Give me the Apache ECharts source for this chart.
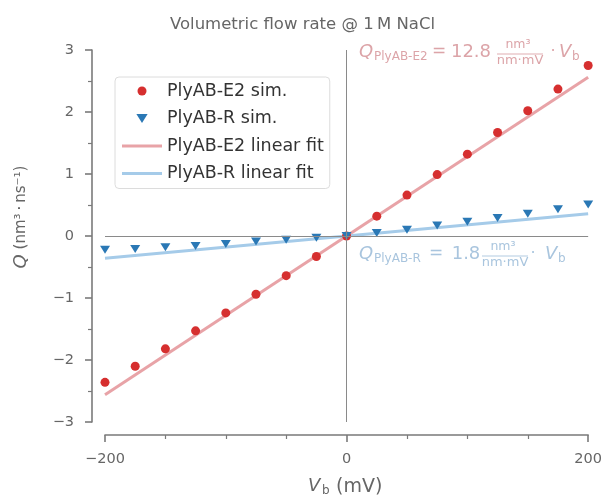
<!DOCTYPE html>
<html>
<head>
<meta charset="utf-8">
<script src="https://cdn.jsdelivr.net/npm/echarts@6/dist/echarts.min.js"></script>
<style>
html, body { margin: 0; padding: 0; background: #fff; }
#chart { width: 605px; height: 500px; }
</style>
</head>
<body>
<div id="chart"></div>
<script>
// data
var voltages = [-200, -175, -150, -125, -100, -75, -50, -25, 0, 25, 50, 75, 100, 125, 150, 175, 200];
var e2Sim = [-2.36, -2.10, -1.82, -1.53, -1.24, -0.94, -0.64, -0.33, 0.0, 0.32, 0.66, 0.99, 1.32, 1.67, 2.02, 2.37, 2.75];
var rSim = [-0.22, -0.21, -0.18, -0.16, -0.13, -0.09, -0.06, -0.03, 0.0, 0.05, 0.10, 0.17, 0.23, 0.29, 0.36, 0.43, 0.51];
var fitVoltages = [-200, 200];
var e2Fit = [-2.56, 2.56];
var rFit = [-0.36, 0.36];

var FONT = 'DejaVu Sans';
var AXIS = '#7a7a7a';
var LABEL = '#666';
var E2_COLOR = '#d62f2f';
var R_COLOR = '#2a78b5';
var E2_FIT = '#e8a3a7';
var R_FIT = '#a5cbe9';
var E2_NOTE = '#dca4a8';
var R_NOTE = '#a9c5de';
var TRI_DOWN = 'path://M0,0 L10,0 L5,8 Z';
var BAR_ICON = 'path://M0,0 L40,0 L40,3 L0,3 Z';

function pairs(xs, ys) {
    return xs.map(function (x, i) { return [x, ys[i]]; });
}
function minus(v) {
    return String(v).replace('-', '\u2212');
}

var chart = echarts.init(document.getElementById('chart'));

function txt(text, x, y, size, color, opts) {
    opts = opts || {};
    return {
        type: 'text', x: x, y: y, silent: true,
        rotation: opts.rotation || 0,
        style: {
            text: text,
            fill: color,
            font: (opts.italic ? 'italic ' : '') + size + 'px "' + FONT + '"',
            textAlign: opts.align || 'left',
            textVerticalAlign: 'middle',
            rich: opts.rich
        }
    };
}
function bar(x1, x2, y, color) {
    return {
        type: 'line', silent: true,
        shape: { x1: x1, y1: y, x2: x2, y2: y },
        style: { stroke: color, lineWidth: 0.9 }
    };
}

// equation labels, placed by hand
function equation(sub, coef, y, color, fx, eqX, coefX, dotX, vX) {
    return [
        txt('Q', 359, y, 18, color, { italic: true }),
        txt(sub, 374, y + 5, 12, color),
        txt('=', eqX, y, 17, color, { align: 'center' }),
        txt(coef, coefX, y, 18, color, { align: 'center' }),
        txt('nm\u00b3', fx - 2, y - 7, 12.5, color, { align: 'center' }),
        bar(fx - 23, fx + 23, y + 2, color),
        txt('nm\u00b7mV', fx, y + 9, 13, color, { align: 'center' }),
        txt('\u00b7', dotX, y, 16, color, { align: 'center' }),
        txt('V', vX, y, 18, color, { italic: true }),
        txt('b', vX + 13, y + 5, 12, color)
    ];
}

var graphics = []
    .concat(equation('PlyAB-E2', '12.8', 52, E2_NOTE, 520, 439, 471, 553, 559))
    .concat(equation('PlyAB-R', '1.8', 254, R_NOTE, 505, 436, 466, 533, 545))
    .concat([
        txt('V', 308, 486, 18, LABEL, { italic: true }),
        txt('b', 322, 491, 12, LABEL),
        txt('(mV)', 336, 487, 19, LABEL),
        txt('{i|Q} (nm\u00b3\u2009\u00b7\u2009ns\u207b\u00b9)', 21, 217, 15, LABEL, {
            align: 'center', rotation: Math.PI / 2,
            rich: { i: { fontStyle: 'italic', fontSize: 18, fontFamily: FONT, fill: LABEL } }
        })
    ]);

var option = {
    animation: false,
    textStyle: { fontFamily: FONT },
    title: {
        text: 'Volumetric flow rate @ 1\u2009M NaCl',
        left: 'center',
        top: 11,
        textStyle: { fontFamily: FONT, fontSize: 16.5, fontWeight: 'normal', color: '#666' }
    },
    legend: {
        orient: 'vertical',
        left: 115,
        top: 77,
        padding: [5, 6, 6, 7],
        itemWidth: 40,
        itemHeight: 9,
        itemGap: 9.5,
        backgroundColor: 'rgba(255,255,255,0.85)',
        borderColor: '#dcdcdc',
        borderWidth: 1,
        borderRadius: 4,
        textStyle: { fontFamily: FONT, fontSize: 17.5, color: '#333', lineHeight: 16 },
        data: [
            { name: 'PlyAB-E2 sim.', icon: 'circle' },
            { name: 'PlyAB-R sim.', icon: TRI_DOWN },
            { name: 'PlyAB-E2 linear fit', icon: BAR_ICON },
            { name: 'PlyAB-R linear fit', icon: BAR_ICON }
        ]
    },
    grid: { left: 105, right: 15, top: 50, bottom: 78 },
    xAxis: {
        type: 'value',
        min: -200, max: 200, interval: 200,
        offset: 13,
        axisLine: { show: true, onZero: false, lineStyle: { color: AXIS, width: 1.6 } },
        axisTick: { show: true, length: 7, lineStyle: { color: AXIS, width: 1.6 } },
        minorTick: { show: true, splitNumber: 4, length: 4, lineStyle: { color: AXIS, width: 1.2 } },
        axisLabel: { color: LABEL, fontSize: 14.5, margin: 17, formatter: minus },
        splitLine: { show: false }
    },
    yAxis: {
        type: 'value',
        min: -3, max: 3, interval: 1,
        offset: 13,
        axisLine: { show: true, onZero: false, lineStyle: { color: AXIS, width: 1.6 } },
        axisTick: { show: true, length: 7, lineStyle: { color: AXIS, width: 1.6 } },
        minorTick: { show: true, splitNumber: 2, length: 4, lineStyle: { color: AXIS, width: 1.2 } },
        axisLabel: { color: LABEL, fontSize: 14.5, margin: 18, formatter: minus },
        splitLine: { show: false }
    },
    graphic: graphics,
    series: [
        {
            name: 'PlyAB-E2 linear fit',
            type: 'line',
            data: pairs(fitVoltages, e2Fit),
            symbol: 'none',
            lineStyle: { color: E2_FIT, width: 3 },
            itemStyle: { color: E2_FIT },
            z: 2,
            markLine: {
                silent: true,
                symbol: 'none',
                label: { show: false },
                lineStyle: { color: '#8a8a8a', width: 1, type: 'solid' },
                data: [{ xAxis: 0 }, { yAxis: 0 }]
            }
        },
        {
            name: 'PlyAB-R linear fit',
            type: 'line',
            data: pairs(fitVoltages, rFit),
            symbol: 'none',
            lineStyle: { color: R_FIT, width: 3 },
            itemStyle: { color: R_FIT },
            z: 2
        },
        {
            name: 'PlyAB-E2 sim.',
            type: 'scatter',
            data: pairs(voltages, e2Sim),
            symbol: 'circle',
            symbolSize: 9,
            itemStyle: { color: E2_COLOR, opacity: 1 },
            z: 3
        },
        {
            name: 'PlyAB-R sim.',
            type: 'scatter',
            data: pairs(voltages, rSim),
            symbol: TRI_DOWN,
            symbolSize: [10, 8],
            itemStyle: { color: R_COLOR, opacity: 1 },
            z: 3
        }
    ]
};

chart.setOption(option);
</script>
</body>
</html>
